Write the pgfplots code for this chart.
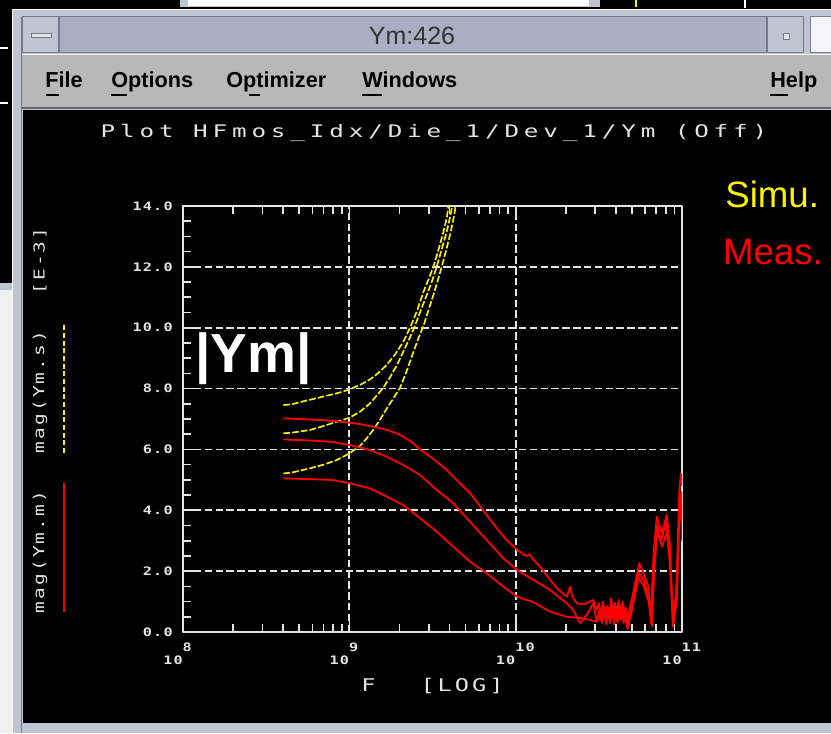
\documentclass[border=0pt]{standalone}
\usepackage{fontspec}
\setmainfont{Liberation Sans}
\newfontfamily\titlemono[LetterSpace=28, FakeStretch=1.4]{DejaVu Sans Mono}
\newfontfamily\tickmono[LetterSpace=10, FakeStretch=1.3]{DejaVu Sans Mono}
\newfontfamily\ylabmono[LetterSpace=14, FakeStretch=1.3]{DejaVu Sans Mono}
\newfontfamily\xlabmono[LetterSpace=17, FakeStretch=1.35]{DejaVu Sans Mono}
\usepackage{pgfplots}
\pgfplotsset{compat=1.18}
\definecolor{tbar}{RGB}{170,174,194}
\definecolor{frm}{RGB}{192,196,210}
\definecolor{frmdk}{RGB}{118,122,138}
\definecolor{menu}{RGB}{184,184,184}
\definecolor{gridc}{RGB}{228,228,228}
\newcommand{\xtl}[1]{10\rlap{\raisebox{7.6pt}{#1}}}
\begin{document}
\begin{tikzpicture}
\begin{scope}[x=0.6pt,y=-0.6pt]
\path[use as bounding box, fill=black] (0,0) rectangle (831,733);
% window behind, top
\fill[frm] (180,0) rectangle (600,7);
\fill[white] (188,0) rectangle (589,6);
\draw[white, line width=0.8pt] (745,0)--(745,8);
\draw[yellow, line width=0.8pt] (636,0)--(636,7);
% left outside
\draw[white, line width=0.8pt] (0,48)--(8,48) (0,103)--(8,103);
\fill[frm] (0,283) rectangle (12,290);
\fill[white!94!black] (0,290) rectangle (12,733);
% window frame
\fill[frm] (12,10) rectangle (831,733);
\draw[white, line width=0.6pt] (12,10)--(831,10) (12,10)--(12,733);
\draw[frmdk, line width=0.6pt] (21,17)--(21,733);
% title bar
\fill[tbar] (59,17) rectangle (766,53);
\draw[frmdk, line width=0.6pt] (59,17) rectangle (766,53);
% left button
\fill[frm] (22,17) rectangle (58,53);
\draw[frmdk, line width=0.6pt] (22,17) rectangle (58,53);
\fill[white!90!black] (31,33) rectangle (51,37);
\draw[frmdk, line width=0.5pt] (31,33) rectangle (51,37);
% right buttons
\fill[frm] (767,17) rectangle (803,53);
\draw[frmdk, line width=0.6pt] (767,17) rectangle (803,53);
\fill[white!90!black] (783,33) rectangle (789,39);
\draw[frmdk, line width=0.5pt] (783,33) rectangle (789,39);
\fill[white!85!frm] (810,17) rectangle (835,53);
\draw[frmdk, line width=0.6pt] (810,17) rectangle (835,53);
\node[text=black!80, font=\fontsize{15}{18}\selectfont, inner sep=0pt, anchor=base] at (412,45) {Ym:426};
% menu bar
\fill[menu] (22,55) rectangle (831,108);
\draw[white!80!menu, line width=0.6pt] (22,55)--(831,55);
\draw[black!60, line width=0.8pt] (22,108)--(831,108);
\begin{scope}[font=\fontsize{13}{15}\selectfont\bfseries, text=black, inner sep=0pt]
\node[anchor=base west] at (45,88) {File};
\node[anchor=base west] at (111,88) {Options};
\node[anchor=base west] at (226,88) {Optimizer};
\node[anchor=base west] at (362,88) {Windows};
\node[anchor=base west] at (770,88) {Help};
\end{scope}
\draw[black, line width=1.1pt] (46,95)--(59,95) (111,95)--(127,95) (249,95)--(260,95) (362,95)--(382,95) (770,95)--(788,95);
% plot area
\fill[black] (23,110) rectangle (831,723);
% plot title
\node[text=gridc, font=\titlemono\fontsize{10.4}{12}\selectfont, inner sep=0pt, anchor=base] at (434,137) {Plot HFmos\_Idx/Die\_1/Dev\_1/Ym (Off)};
% y label with legend samples
\node[rotate=90, text=gridc, font=\ylabmono\fontsize{9}{10}\selectfont, inner sep=0pt] at (40,552) {mag(Ym.m)};
\node[rotate=90, text=gridc, font=\ylabmono\fontsize{9}{10}\selectfont, inner sep=0pt] at (40,392) {mag(Ym.s)};
\node[rotate=90, text=gridc, font=\ylabmono\fontsize{9}{10}\selectfont, inner sep=0pt] at (40,261) {[E-3]};
\draw[red, line width=1pt] (64,612)--(64,483);
\draw[yellow, line width=1pt, dash pattern=on 3pt off 1.6pt] (64,453)--(64,323);
\end{scope}

\begin{axis}[
  at={(109.8pt,-379.2pt)}, anchor=south west,
  scale only axis, width=299.4pt, height=255.6pt,
  xmode=log, xmin=1e8, xmax=1e11, ymin=0, ymax=14,
  xtick={1e8,1e9,1e10,1e11},
  xticklabels={\xtl{8},\xtl{9},\xtl{10},\xtl{11}},
  minor xtick={2e8,3e8,4e8,5e8,6e8,7e8,8e8,9e8,2e9,3e9,4e9,5e9,6e9,7e9,8e9,9e9,2e10,3e10,4e10,5e10,6e10,7e10,8e10,9e10},
  ytick={0,2,4,6,8,10,12,14},
  yticklabels={0.0,2.0,4.0,6.0,8.0,10.0,12.0,14.0},
  minor y tick num=3,
  ytick pos=left,
  axis line style={gridc, line width=1.2pt},
  tick style={gridc, line width=1pt},
  major tick length=7pt, minor tick length=5pt,
  grid=major,
  major grid style={gridc, line width=1.1pt, dash pattern=on 4.5pt off 2pt},
  ticklabel style={font=\tickmono\bfseries\fontsize{7}{8}\selectfont, text=gridc},
  yticklabel style={anchor=east, inner sep=0pt, xshift=-6pt},
  xticklabel style={anchor=north east, inner sep=0pt, yshift=-6.6pt},
  xlabel={F\hspace{26.9pt}[LOG]},
  xlabel style={at={(axis description cs:0.5,0)}, anchor=base, yshift=-35.4pt, inner sep=0pt, text=gridc, font=\xlabmono\fontsize{10.5}{12}\selectfont},
  line join=round,
]
% simulated (yellow dashed)
\addplot[yellow, line width=1pt, dash pattern=on 4pt off 1.3pt] coordinates {
(4.01e8,7.46) (4.5e8,7.48) (5.0e8,7.55) (6.0e8,7.65) (7.0e8,7.74) (8.5e8,7.85) (1.0e9,7.97) (1.16e9,8.12) (1.33e9,8.30) (1.5e9,8.52) (1.68e9,8.78) (1.9e9,9.15) (2.11e9,9.54) (2.32e9,10.0) (2.55e9,10.55) (2.79e9,11.18) (3.0e9,11.6) (3.20e9,12.0) (3.45e9,12.6) (3.68e9,13.16) (3.85e9,13.6) (3.94e9,13.98) (4.05e9,14.4)};
\addplot[yellow, line width=1pt, dash pattern=on 4pt off 1.3pt] coordinates {
(4.01e8,6.53) (4.5e8,6.55) (5.81e8,6.64) (7.0e8,6.77) (8.40e8,6.91) (1.0e9,7.04) (1.16e9,7.24) (1.33e9,7.51) (1.45e9,7.75) (1.60e9,8.03) (1.76e9,8.38) (1.93e9,8.77) (2.11e9,9.21) (2.3e9,9.65) (2.48e9,10.06) (2.7e9,10.6) (2.92e9,11.07) (3.15e9,11.55) (3.35e9,12.0) (3.6e9,12.6) (3.85e9,13.16) (4.0e9,13.55) (4.13e9,13.92) (4.2e9,14.3)};
\addplot[yellow, line width=1pt, dash pattern=on 4pt off 1.3pt] coordinates {
(4.01e8,5.21) (4.5e8,5.24) (5.81e8,5.38) (7.0e8,5.50) (8.40e8,5.65) (1.0e9,5.87) (1.16e9,6.12) (1.27e9,6.36) (1.39e9,6.64) (1.53e9,6.98) (1.68e9,7.35) (1.85e9,7.70) (2.02e9,8.03) (2.22e9,8.6) (2.43e9,9.21) (2.6e9,9.65) (2.79e9,10.06) (3.0e9,10.6) (3.20e9,11.07) (3.4e9,11.55) (3.59e9,12.0) (3.8e9,12.5) (4.03e9,13.05) (4.2e9,13.5) (4.32e9,13.87) (4.4e9,14.3)};
% measured (red)
\addplot[red, line width=1.1pt] coordinates {
(4.01e8,7.02) (5.0e8,7.00) (6.0e8,6.98) (7.83e8,6.94) (1.0e9,6.88) (1.16e9,6.83) (1.33e9,6.77) (1.50e9,6.71) (1.68e9,6.64) (1.90e9,6.54) (2.11e9,6.42) (2.40e9,6.22) (2.66e9,6.00) (3.0e9,5.80) (3.35e9,5.60) (3.8e9,5.35) (4.22e9,5.10) (4.7e9,4.85) (5.32e9,4.56) (5.9e9,4.25) (6.40e9,3.98) (7.0e9,3.70) (7.70e9,3.41) (8.9e9,3.00) (1.02e10,2.70) (1.15e10,2.50) (1.22e10,2.55) (1.28e10,2.37) (1.4e10,2.15) (1.61e10,1.71) (1.8e10,1.40) (2.03e10,1.16) (2.12e10,1.49) (2.2e10,1.15) (2.33e10,0.94) (2.6e10,0.92) (2.93e10,1.05) (3.07e10,0.72)
(3.15e10,0.95) (3.25e10,0.6) (3.35e10,1.0) (3.45e10,0.5) (3.55e10,0.85) (3.65e10,0.45) (3.75e10,1.1) (3.85e10,0.6) (3.95e10,0.95) (4.05e10,0.4) (4.15e10,1.05) (4.25e10,0.55) (4.35e10,0.9) (4.45e10,0.3) (4.6e10,0.8) (4.75e10,0.15) (4.9e10,0.9) (5.05e10,1.2) (5.22e10,1.6) (5.54e10,2.26) (5.86e10,1.94) (6.28e10,1.49) (6.5e10,0.3) (6.73e10,2.47) (7.05e10,3.79) (7.56e10,3.25) (8.10e10,3.85) (8.48e10,2.8) (8.81e10,0.17) (9.31e10,1.49) (9.64e10,4.67) (9.84e10,5.2) (1.0e11,4.8)};
\addplot[red, line width=1.1pt] coordinates {
(4.01e8,6.33) (5.5e8,6.30) (7.83e8,6.25) (1.0e9,6.15) (1.33e9,5.98) (1.68e9,5.76) (2.11e9,5.49) (2.66e9,5.16) (3.35e9,4.67) (4.22e9,4.23) (5.32e9,3.62) (6.70e9,3.02) (8.44e9,2.42) (1.02e10,2.04) (1.28e10,1.71) (1.61e10,1.38) (2.03e10,0.94) (2.2e10,0.75) (2.44e10,0.29) (2.7e10,0.6) (2.93e10,0.94) (3.07e10,0.34)
(3.2e10,0.75) (3.3e10,0.4) (3.4e10,0.85) (3.5e10,0.35) (3.6e10,0.8) (3.7e10,0.3) (3.8e10,0.9) (3.9e10,0.45) (4.0e10,0.85) (4.1e10,0.3) (4.2e10,0.95) (4.3e10,0.45) (4.4e10,1.0) (4.6e10,0.3) (4.9e10,0.8) (5.2e10,1.4) (5.5e10,1.95) (5.9e10,1.7) (6.3e10,1.2) (6.6e10,0.5) (6.8e10,2.2) (7.1e10,3.5) (7.5e10,3.0) (8.0e10,3.6) (8.4e10,2.5) (8.8e10,0.4) (9.2e10,1.2) (9.6e10,4.0) (9.9e10,4.6) (1.0e11,3.8)};
\addplot[red, line width=1.1pt] coordinates {
(4.01e8,5.05) (7.83e8,5.00) (1.0e9,4.89) (1.33e9,4.72) (1.68e9,4.45) (2.11e9,4.17) (2.66e9,3.74) (3.35e9,3.30) (4.22e9,2.80) (5.32e9,2.31) (6.70e9,1.93) (8.44e9,1.49) (1.02e10,1.16) (1.28e10,0.98) (1.61e10,0.67) (2.03e10,0.50) (2.55e10,0.45) (3.07e10,0.34)
(3.2e10,0.6) (3.3e10,0.3) (3.4e10,0.7) (3.5e10,0.25) (3.6e10,0.65) (3.7e10,0.3) (3.8e10,0.75) (3.9e10,0.25) (4.0e10,0.7) (4.1e10,0.35) (4.2e10,0.8) (4.3e10,0.4) (4.5e10,0.65) (4.7e10,0.1) (5.0e10,0.7) (5.2e10,1.2) (5.5e10,1.8) (5.9e10,1.5) (6.3e10,1.0) (6.6e10,0.2) (6.8e10,2.0) (7.1e10,3.3) (7.6e10,2.8) (8.1e10,3.3) (8.5e10,2.2) (8.9e10,0.3) (9.3e10,1.0) (9.6e10,3.6) (9.9e10,4.2) (1.0e11,3.0)};
\end{axis}

\begin{scope}[x=0.6pt,y=-0.6pt]
\node[text=white, font=\fontsize{33}{38}\selectfont\bfseries, inner sep=0pt, anchor=base west] at (195,372) {|Ym|};
\node[text=yellow, font=\fontsize{22}{26}\selectfont, inner sep=0pt, anchor=base west] at (725,207) {Simu.};
\node[text=red, font=\fontsize{22}{26}\selectfont, inner sep=0pt, anchor=base west] at (722.7,264) {Meas.};
\end{scope}
\end{tikzpicture}
\end{document}
